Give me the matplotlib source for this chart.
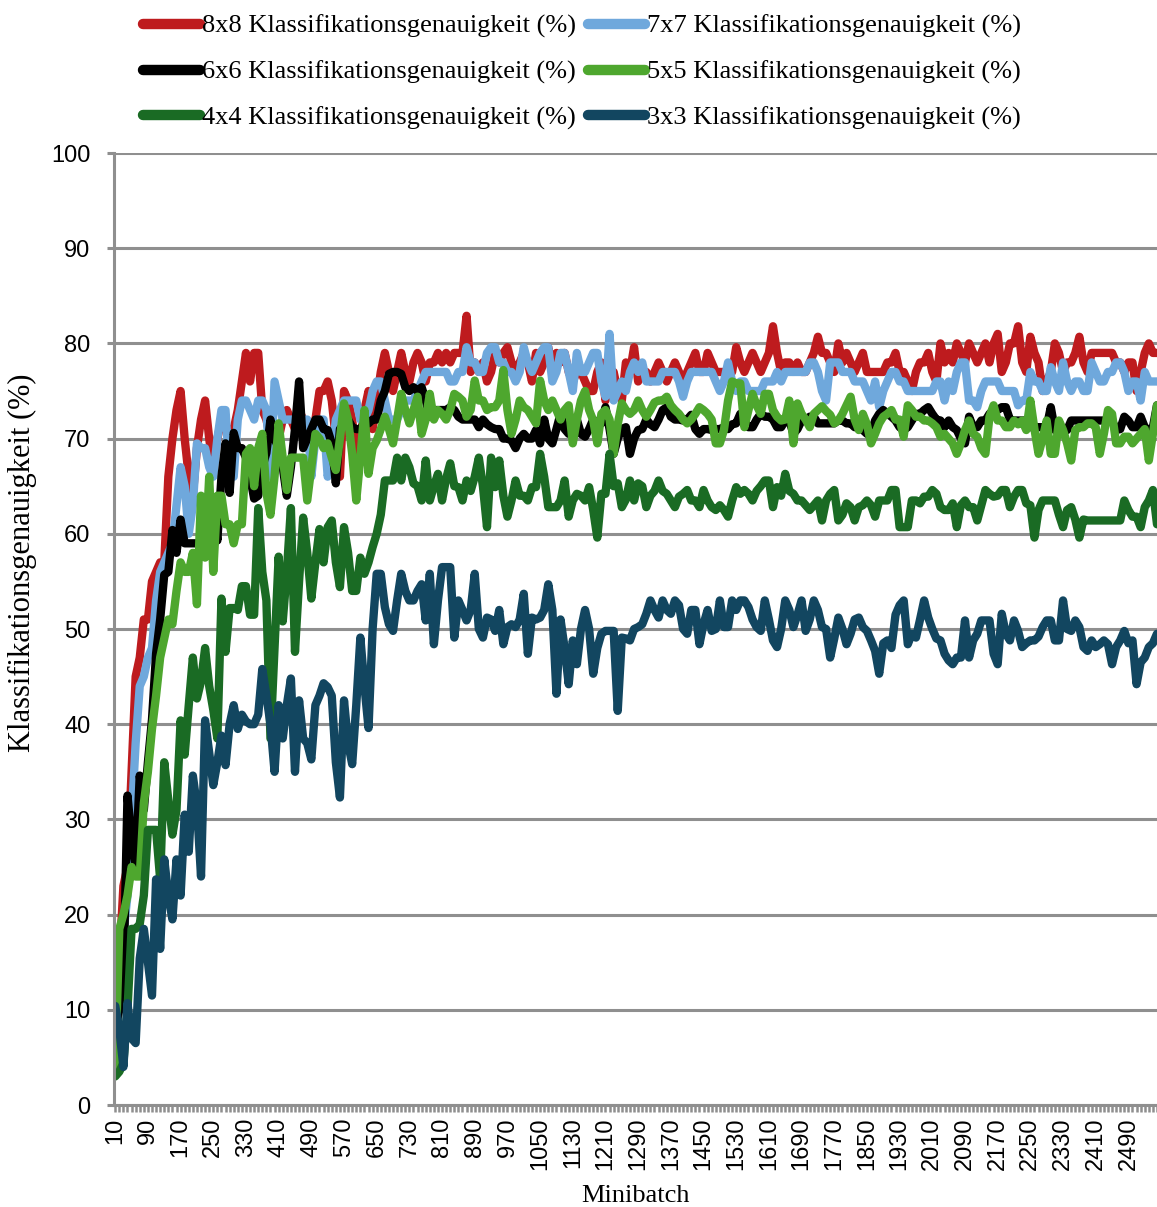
import matplotlib
matplotlib.use('Agg')
import matplotlib.pyplot as plt

plt.rcParams['font.family'] = ['Liberation Sans', 'DejaVu Sans']

# Minibatch categories (x axis)
minibatch = list(range(10, 2570, 10))

acc_8x8 = [
    7, 15, 23, 25, 35, 45, 47, 51, 51, 55,
    56, 57, 57, 66, 70, 73, 75, 70, 66, 64,
    69, 72, 74, 70, 67, 70, 72, 71, 71, 71,
    73, 76, 79, 76, 79, 79, 73, 72, 70, 71,
    70, 72, 73, 72, 71, 73, 72, 71, 71, 72,
    75, 75, 76, 74, 70, 66, 75, 74, 72, 68,
    70, 73, 75, 71, 74, 77, 79, 77, 75, 77,
    79, 77, 76, 78, 79, 78, 76, 78, 78, 79,
    78, 79, 78, 79, 79, 79, 82.9, 77, 78, 77,
    78, 76, 77, 79, 78, 79, 79.6, 78, 77, 78,
    79, 78, 76, 79, 77, 78, 79.6, 77, 79, 78,
    79, 77, 76, 77, 77, 76, 75, 75, 77, 78,
    74, 76, 77, 75, 74, 78, 77, 79.6, 76, 77,
    77, 76, 77, 78, 77, 76, 77, 78, 77, 76,
    77, 78, 79, 77, 77, 79, 78, 77, 77, 77,
    77, 77, 79.6, 78, 77, 78, 79, 78, 77, 78,
    79, 81.8, 79, 77, 78, 78, 77, 78, 77, 77,
    78, 79, 80.7, 79, 79, 78, 77, 80, 78, 79,
    78, 77, 78, 79, 77, 77, 77, 77, 77, 78,
    78, 79, 77, 77, 76, 75, 77, 78, 78, 79,
    77, 76, 80, 78, 79, 78, 80, 79, 78, 80,
    79, 78, 79, 80, 78, 80, 81, 77, 78, 80,
    80, 81.8, 78, 77, 80.7, 79, 78, 75, 76, 77,
    80, 79, 77, 78, 78, 79, 80.7, 78, 77, 79,
    79, 79, 79, 79, 79, 78, 78, 77, 78, 78,
    75, 77, 79, 80, 79, 79,
]

acc_7x7 = [
    5, 12, 18, 22, 30, 38, 44, 45, 47, 48,
    53, 56, 57, 58, 59, 63, 67, 65, 60, 63,
    69.5, 69, 69, 67, 66, 70, 73, 73, 66, 66,
    72, 74, 74, 73, 72, 74, 74, 73, 66, 76,
    74, 72, 72, 72, 72, 72, 72, 72, 66, 70,
    72, 72, 66, 68, 72, 73, 74, 74, 74, 74,
    72, 72, 73, 75, 76, 76, 74, 72, 72, 72,
    73, 74, 74, 74, 75, 76, 77, 77, 77, 77,
    77, 77, 76, 76, 77, 77, 79.6, 78, 78, 77,
    77, 79, 79.6, 79.6, 78, 78, 77, 77, 76, 77,
    79.6, 78, 77, 78, 79, 79.6, 79.6, 76, 77, 79,
    79, 77, 75, 79, 77, 77, 78, 79, 79, 76,
    74.4, 81, 74, 75, 76, 75, 77, 78, 77, 78,
    76, 76, 76, 76, 77, 77, 77, 77, 76, 74.4,
    76, 77, 77, 77, 77, 77, 77, 76, 75, 76,
    78, 76, 75, 76, 76, 75, 75, 75, 75, 76,
    76, 76, 77, 76, 77, 77, 77, 77, 77, 77,
    78, 78, 77, 75, 74, 78, 78, 78, 77, 77,
    77, 76, 76, 76, 75, 74, 76, 73.3, 75, 76,
    77, 77, 76, 76, 75, 75, 75, 75, 75, 75,
    75, 76, 76, 74, 76, 75, 77, 78, 78, 74,
    74, 73.3, 75, 76, 76, 76, 76, 75, 75, 75,
    75, 73.5, 74, 74, 77, 76, 76, 75, 75, 77.5,
    76, 75, 78, 76, 75, 76, 76, 75, 75, 78,
    77, 76, 76, 77, 77, 78, 78, 77, 75, 76,
    76, 74, 77, 76, 76, 76,
]

acc_6x6 = [
    8, 10, 13, 32.5, 28, 25, 34.6, 31, 36, 40.5,
    47.4, 51, 55.7, 56, 60.4, 58, 61.5, 59, 59, 59,
    59, 59, 60, 62, 63, 59.3, 66, 69.5, 64.3, 70.6,
    69, 69, 68, 66, 63.7, 64, 67, 68.5, 72, 70,
    69, 67, 64, 67, 71, 76, 69, 70, 71, 72,
    72, 71, 70.9, 69.5, 65.3, 71, 71.5, 72, 71.2, 71,
    71, 71.6, 71.6, 72, 72, 74, 75, 76.8, 77, 77,
    76.8, 75.4, 75, 75.4, 75, 75.4, 74, 72.3, 73, 73,
    73, 73, 73.3, 73, 72.3, 72, 72, 72, 72, 71.2,
    72, 71.5, 71.2, 71, 71, 70, 70, 69.8, 69, 70,
    70.5, 70, 70, 70.9, 69.5, 72, 70, 69.5, 71, 72.6,
    71, 70.5, 72, 72, 70.5, 70.2, 71, 72, 71.5, 71.6,
    73.3, 71, 68.4, 70, 71, 71.2, 68.4, 70, 70.9, 71,
    72, 71.5, 71.2, 72, 73, 73.3, 72.3, 72, 72, 71.9,
    72, 72.5, 71, 70.5, 71, 71, 70.9, 71, 71, 71.2,
    71, 71.5, 71.6, 72.6, 71.9, 71.2, 71.2, 72, 72.6, 72.3,
    72.3, 72, 71.2, 71.2, 71.9, 71.9, 70.5, 71, 71.9, 71.9,
    72.3, 72.3, 71.6, 71.6, 71.6, 71.6, 71.6, 71.9, 71.9, 71.6,
    71.6, 71.2, 71.2, 70.9, 70.5, 70.5, 71.9, 72.6, 73, 72.6,
    72.3, 71.9, 71.2, 70.9, 71.2, 71.9, 72.6, 72.6, 73, 73.3,
    72.6, 72, 71.9, 71.2, 71.9, 71.2, 70.9, 70, 69.5, 72.3,
    71.2, 71.2, 71.9, 71.9, 72.6, 73, 73, 73.3, 73.3, 72,
    71.9, 71.9, 71.9, 71.9, 71.2, 71.2, 71.2, 71.2, 71.2, 73.3,
    70.9, 70.9, 70.9, 70.9, 71.9, 71.9, 71.9, 71.9, 71.9, 71.9,
    71.9, 71.9, 71.9, 71.9, 71.9, 70.9, 71, 72.3, 71.9, 71.2,
    71.2, 72.3, 71.2, 70.9, 71.2, 73.5,
]

acc_5x5 = [
    4, 18.5, 20, 22, 25, 24, 24, 31.7, 35, 39.5,
    43, 47, 49, 51, 50.5, 54, 57, 56, 56, 58,
    52.6, 64, 57.5, 66, 56, 64, 64, 61, 61, 59,
    61, 61, 68.4, 69, 65, 69, 70.5, 64.3, 62, 66,
    71.6, 68, 64.6, 68, 68, 68, 68, 63.5, 67, 70.5,
    70, 69, 69.5, 68, 66.7, 70, 73.7, 72, 68.4, 63.5,
    68, 73, 66.3, 69, 69.8, 71, 72.3, 71, 69.5, 72,
    74.7, 73, 71.6, 73, 74.4, 70.5, 72, 74.7, 72, 73,
    72.6, 72, 73, 74.7, 74.4, 74, 72.3, 73, 76.1, 74,
    74, 73, 73.3, 73.3, 74, 77.2, 73, 70.5, 72, 74,
    73.3, 73, 72.3, 71.6, 76.1, 74, 73, 74, 73, 72,
    73, 73.5, 69.5, 72, 74, 75, 73, 71.9, 69.5, 72.6,
    73, 72, 68.4, 71.5, 73.7, 73, 72.6, 73, 74, 73,
    72.3, 73, 73.8, 74, 74, 74.4, 73.5, 73, 72.6, 72,
    71.6, 72, 72.6, 73.3, 73, 72.6, 72, 69.5, 69.5, 70.9,
    74, 76, 75.8, 75.8, 71.2, 73, 74.7, 73.5, 72.6, 74.7,
    74.7, 73, 72.3, 71.9, 72, 74, 69.5, 73.7, 72.6, 72,
    71.2, 72.6, 73, 73.4, 72.9, 72.5, 71.6, 71.9, 72.6, 73.5,
    74.4, 72, 70.9, 72.6, 71.5, 69.5, 70.5, 71.6, 72.3, 72.6,
    73, 72, 72, 70.2, 73.5, 73, 72.3, 72.3, 71.9, 71.9,
    71.6, 71.2, 70.2, 70.5, 70, 69.5, 68.4, 69.5, 70.9, 71.9,
    70.5, 70.2, 69, 68.4, 72.3, 73.5, 71.9, 71.9, 71.2, 71.2,
    71.9, 71.5, 71.9, 70.9, 74, 71, 68.4, 70, 71.9, 68.4,
    68.4, 71.9, 70.9, 69.5, 67.7, 70.9, 71.2, 71.2, 71.6, 71.6,
    71.2, 68.4, 70.5, 73, 72.6, 69.5, 69.5, 70.2, 70.2, 69.5,
    70, 70.5, 71, 67.7, 70.5, 73.5,
]

acc_4x4 = [
    3, 3.5, 4.4, 10, 18.5, 18.5, 19, 22, 28.9, 28.9,
    28.9, 23.7, 36, 32, 28.4, 31, 40.4, 36.8, 42, 47,
    42.7, 44.5, 48, 44, 41.5, 38.5, 53.2, 47.6, 52.2, 52.2,
    52, 54.5, 54.5, 51.5, 51.5, 62.7, 56, 53, 38.5, 48,
    57.6, 50.8, 56, 62.7, 47.6, 55, 61.7, 58, 53.2, 57,
    60.5, 57, 60.7, 61.4, 57, 54.4, 60.7, 58, 54, 54,
    57.5, 55.8, 57, 58.6, 60, 62, 65.6, 65.6, 65.6, 68,
    65.6, 68, 67, 65.3, 65, 63.5, 67.7, 63.5, 65, 66.3,
    63.5, 65.8, 67.4, 65, 64.9, 63.5, 65.6, 64.5, 66, 68,
    65, 60.7, 68, 64.9, 67.7, 64, 61.8, 63.5, 65.6, 64,
    64, 63.5, 64.9, 64.9, 68.4, 66, 62.8, 62.8, 62.8, 63.5,
    65.6, 61.8, 63.5, 64.2, 64, 63.5, 64.9, 62.5, 59.6, 64.2,
    64.2, 68.4, 65, 65.3, 62.8, 63.6, 65.6, 63.5, 65.3, 65,
    62.8, 64, 64.5, 65.6, 64.5, 64.2, 63.5, 62.8, 63.9, 64.2,
    64.6, 63.5, 63.5, 62.8, 64.6, 63.5, 62.8, 62.5, 63, 62.5,
    61.8, 63.5, 64.9, 64.2, 64.6, 64.2, 63.5, 64.5, 65, 65.6,
    65.6, 62.8, 64.9, 64, 66.3, 64.5, 64.2, 63.5, 63.5, 63,
    62.5, 63, 63.5, 61.4, 63.5, 64.2, 64.6, 61.4, 62, 63.2,
    62.8, 61.4, 62.8, 63, 63.5, 63, 61.8, 63.5, 63.5, 63.5,
    64.6, 64.6, 60.7, 60.7, 60.7, 63.5, 63.5, 63.2, 63.9, 63.9,
    64.6, 64.2, 62.8, 62.5, 62.5, 63.2, 60.7, 63, 63.5, 62.8,
    62.8, 61.4, 63, 64.6, 64.2, 63.9, 64, 64.6, 64.6, 62.8,
    63.9, 64.6, 64.6, 63.2, 63, 59.6, 62.5, 63.5, 63.5, 63.5,
    63.5, 62, 60.7, 62.5, 62.8, 61.5, 59.6, 61.5, 61.4, 61.4,
    61.4, 61.4, 61.4, 61.4, 61.4, 61.4, 61.4, 63.5, 62.5, 61.8,
    61.8, 60.7, 62.8, 63.5, 64.6, 61,
]

acc_3x3 = [
    10.4, 8, 4, 10.7, 7, 6.5, 15.4, 18.5, 15, 11.5,
    23.7, 16.4, 25.8, 22, 19.5, 25.8, 22, 30.5, 26.6, 34.6,
    31.4, 24, 40.4, 37, 33.6, 36, 38.8, 35.7, 40, 42,
    39.5, 41, 40.3, 40, 40, 41, 45.8, 43, 40, 35,
    42, 38.5, 42, 44.8, 35, 42.5, 38.5, 38, 36.3, 42,
    43, 44.3, 43.9, 43, 36, 32.3, 42.5, 38, 35.8, 42,
    49.1, 44, 39.6, 50, 55.8, 55.8, 52.3, 50.5, 49.8, 53,
    55.8, 54, 53, 53, 54, 54.7, 50.9, 55.8, 48.4, 53,
    56.5, 56.5, 56.5, 49.1, 53, 52, 50.9, 52, 55.8, 50,
    49.1, 51.2, 51, 49.8, 52, 48.4, 50.2, 50.5, 50.2, 51,
    53.7, 47.4, 51.2, 51, 51.2, 52, 54.7, 52, 43.2, 51,
    48, 44.2, 48.8, 46.3, 50, 52, 50, 45.3, 48, 49.5,
    49.8, 49.8, 49.8, 41.4, 49.1, 49, 48.8, 50, 50.2, 50.5,
    51.6, 53, 52, 51.2, 53, 52, 51.6, 53, 52.5, 50,
    49.5, 52, 52, 48.4, 50.5, 52, 49.8, 50, 53, 50.2,
    50.2, 53, 52, 53, 53, 52.3, 51, 50.2, 49.8, 53,
    51, 48.8, 48.1, 50, 53, 52, 50.2, 51.5, 53, 49.8,
    51, 53, 52, 50.2, 50, 47, 49, 51.2, 50, 48.4,
    49.5, 51, 51.2, 50.2, 49.8, 48.8, 47.7, 45.3, 48.5, 48.8,
    48, 51.5, 52.5, 53, 48.4, 49.5, 49.1, 51, 53, 51.2,
    50, 49, 48.8, 47.4, 46.7, 46.3, 47, 47, 50.9, 47,
    48.8, 49.5, 50.9, 50.9, 50.9, 47.4, 46.3, 51.6, 49.5, 48.8,
    50.9, 49.8, 48.1, 48.5, 48.8, 48.8, 49.2, 50.2, 50.9, 50.9,
    48.8, 48.8, 53, 50, 49.8, 50.9, 50.2, 48.1, 47.7, 48.8,
    48.1, 48.4, 48.8, 48.4, 46.3, 48.1, 48.8, 49.8, 48.5, 48.8,
    44.2, 46.5, 47, 48.1, 48.5, 49.5,
]

labels = ['8x8 Klassifikationsgenauigkeit (%)', '7x7 Klassifikationsgenauigkeit (%)',
          '6x6 Klassifikationsgenauigkeit (%)', '5x5 Klassifikationsgenauigkeit (%)',
          '4x4 Klassifikationsgenauigkeit (%)', '3x3 Klassifikationsgenauigkeit (%)']
colors = ['#BE1B1E', '#6FA8DC', '#000000', '#4EA72E', '#1A6B24', '#124660']
data = [acc_8x8, acc_7x7, acc_6x6, acc_5x5, acc_4x4, acc_3x3]

grid_col = '#8F8F8F'

fig = plt.figure(figsize=(11.57, 12.07), dpi=100)
ax = fig.add_axes([114 / 1157, 102 / 1207, 1 - 114 / 1157, 952 / 1207])

x = list(range(len(minibatch)))
lines = []
for vals, lab, col in zip(data, labels, colors):
    ln, = ax.plot(x[:len(vals)], vals, color=col, lw=6, label=lab,
                  solid_joinstyle='round', solid_capstyle='round')
    lines.append(ln)

ax.set_xlim(-0.3, len(minibatch) - 1)
ax.set_ylim(0, 100)
ax.set_yticks(range(0, 101, 10))
ax.yaxis.grid(True, color=grid_col, lw=2.2)
ax.set_axisbelow(True)

ax.set_xticks(x[::8])
ax.set_xticklabels([str(m) for m in minibatch[::8]], rotation=90)
ax.set_xticks(x, minor=True)
ax.tick_params(axis='x', which='both', length=5, width=1.8, color=grid_col,
               labelsize=17, pad=4)
ax.tick_params(axis='y', length=5, width=2.2, color=grid_col, labelsize=17, pad=12)

for s in ['top', 'right']:
    ax.spines[s].set_visible(False)
for s in ['left', 'bottom']:
    ax.spines[s].set_color(grid_col)
    ax.spines[s].set_linewidth(2.2)

fig.text(22 / 1157, 1 - 563 / 1207, 'Klassifikationsgenauigkeit (%)', rotation=90,
         ha='center', va='center', fontsize=22, family='Liberation Serif')
fig.text(635 / 1157, 1 - 1196 / 1207, 'Minibatch', ha='center', va='center',
         fontsize=19, family='Liberation Serif')

order = [0, 2, 4, 1, 3, 5]
leg = fig.legend([lines[i] for i in order], [labels[i] for i in order],
                 loc='upper center', bbox_to_anchor=(0.503, 1.0), ncol=2,
                 frameon=False, prop={'family': 'Liberation Serif', 'size': 19},
                 handlelength=2.16, handletextpad=0.08, columnspacing=0.45,
                 labelspacing=0.83, borderpad=0.05)
for h in leg.legend_handles:
    h.set_linewidth(7.5)

fig.savefig('out.png', dpi=100)
